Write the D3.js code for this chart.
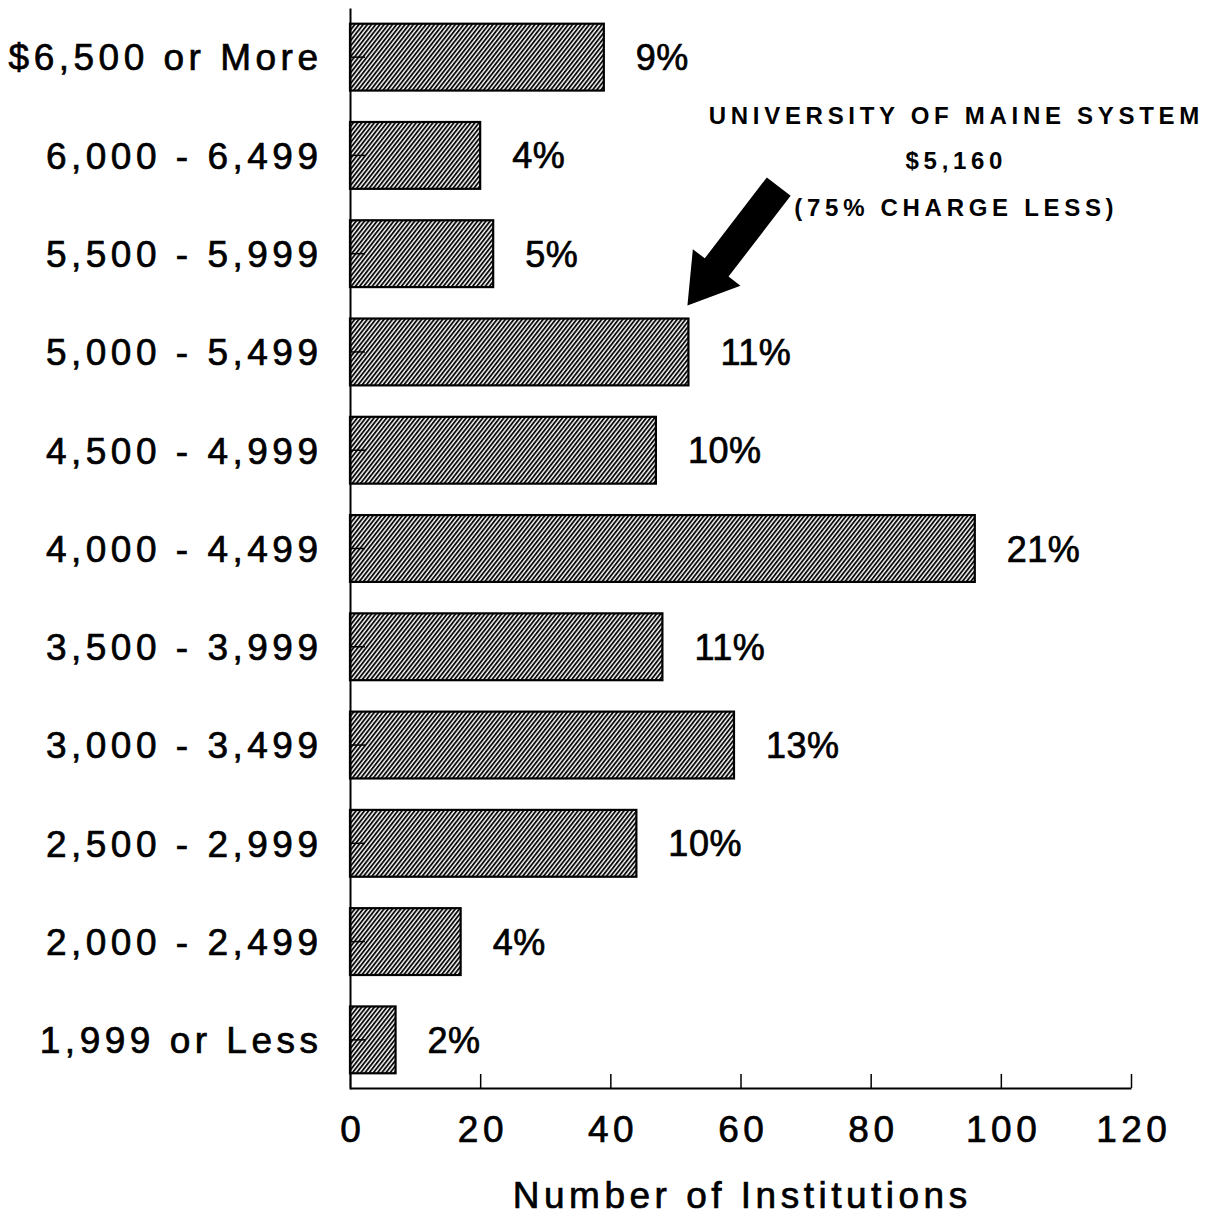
<!DOCTYPE html>
<html>
<head>
<meta charset="utf-8">
<script src="https://cdn.jsdelivr.net/npm/d3@7"></script>
<style>
  html, body { margin: 0; padding: 0; background: #fff; }
  svg { display: block; }
  text { font-family: "Liberation Sans", Arial, Helvetica, sans-serif; fill: #000; }
</style>
</head>
<body>
<svg id="chart" width="1215" height="1220"></svg>
<script>
// Tuition and fee ranges (top to bottom)
const categories = [
  "$6,500 or More", "6,000 - 6,499", "5,500 - 5,999", "5,000 - 5,499",
  "4,500 - 4,999", "4,000 - 4,499", "3,500 - 3,999", "3,000 - 3,499",
  "2,500 - 2,999", "2,000 - 2,499", "1,999 or Less"
];
// Number of institutions in each range
const institutions = [39, 20, 22, 52, 47, 96, 48, 59, 44, 17, 7];
// Share of institutions, as printed beside each bar
const shareLabels = ["9%", "4%", "5%", "11%", "10%", "21%", "11%", "13%", "10%", "4%", "2%"];
// X axis ticks
const xTicks = [0, 20, 40, 60, 80, 100, 120];
// Callout
const calloutLines = ["UNIVERSITY OF MAINE SYSTEM", "$5,160", "(75% CHARGE LESS)"];
const calloutCategory = "5,000 - 5,499";
const xTitle = "Number of Institutions";

const svg = d3.select("#chart");

// Diagonal hatch used for the bars
const defs = svg.append("defs");
const pat = defs.append("pattern")
  .attr("id", "hatch")
  .attr("patternUnits", "userSpaceOnUse")
  .attr("width", 3.3).attr("height", 10)
  .attr("patternTransform", "rotate(38)");
pat.append("rect").attr("width", 3.3).attr("height", 10).attr("fill", "#fff");
pat.append("line")
  .attr("x1", 1).attr("y1", 0).attr("x2", 1).attr("y2", 10)
  .attr("stroke", "#000").attr("stroke-width", 1.8);

const x = d3.scaleLinear().domain([0, 120]).range([350, 1131]);
const y = d3.scaleBand().domain(categories).range([8, 1089])
  .paddingInner(0.32).paddingOuter(0.16);

const FS = 37;   // axis text size
const LS = 4.5;  // letter spacing of axis text
const heavy = sel => sel.attr("stroke", "#000").attr("stroke-width", 0.7);

// Bars
svg.append("g").selectAll("rect")
  .data(categories)
  .join("rect")
  .attr("x", x(0))
  .attr("y", d => y(d))
  .attr("width", (d, i) => x(institutions[i]) - x(0))
  .attr("height", y.bandwidth())
  .attr("fill", "url(#hatch)")
  .attr("stroke", "#000")
  .attr("stroke-width", 2.2);

// Y axis with short inward ticks
const yAxis = svg.append("g")
  .attr("transform", `translate(${x(0)},0)`)
  .call(d3.axisLeft(y).tickSizeInner(-15).tickSizeOuter(0).tickPadding(32 - LS));
yAxis.select(".domain").attr("stroke", "#000").attr("stroke-width", 2);
yAxis.selectAll(".tick line").attr("stroke", "#000").attr("stroke-width", 1.5);
yAxis.selectAll(".tick text")
  .attr("font-size", FS)
  .attr("letter-spacing", LS)
  .attr("dy", "0.36em")
  .style("font-family", '"Liberation Sans", Arial, sans-serif')
  .call(heavy);

// X axis with upward ticks
const xAxis = svg.append("g")
  .attr("transform", `translate(0,1088)`)
  .call(d3.axisBottom(x).tickValues(xTicks).tickSizeInner(-14).tickSizeOuter(0).tickPadding(54));
xAxis.select(".domain").attr("stroke", "#000").attr("stroke-width", 2);
xAxis.selectAll(".tick line").attr("stroke", "#000").attr("stroke-width", 1.5);
xAxis.selectAll(".tick text")
  .attr("font-size", FS)
  .attr("letter-spacing", LS)
  .attr("dy", "0")
  .attr("dx", LS / 2)
  .style("font-family", '"Liberation Sans", Arial, sans-serif')
  .call(heavy);

// Axis title
svg.append("text")
  .attr("x", 740 + LS / 2).attr("y", 1208)
  .attr("text-anchor", "middle")
  .attr("font-size", FS)
  .attr("letter-spacing", LS)
  .call(heavy)
  .text(xTitle);

// Percentage labels beside bars
svg.append("g").selectAll("text")
  .data(categories)
  .join("text")
  .attr("x", (d, i) => x(institutions[i]) + 32)
  .attr("y", d => y(d) + y.bandwidth() / 2 + 13)
  .attr("font-size", 36)
  .attr("letter-spacing", 0.5)
  .call(heavy)
  .text((d, i) => shareLabels[i]);

// Callout text
const cLS = 4.7;
svg.append("g").selectAll("text")
  .data(calloutLines)
  .join("text")
  .attr("x", 954 + cLS / 2)
  .attr("y", (d, i) => [124, 169, 216][i])
  .attr("text-anchor", "middle")
  .attr("font-size", 24)
  .attr("font-weight", "bold")
  .attr("letter-spacing", cLS)
  .text(d => d);

// Arrow pointing at the callout bar's top-right corner
const ci = categories.indexOf(calloutCategory);
const tipX = x(institutions[ci]) - 1;
const tipY = y(calloutCategory) - 13;
const L = 150, H = 48, W = 30, S = 15;
svg.append("path")
  .attr("d", `M0,0 L${H},${-W} L${H},${-S} L${L},${-S} L${L},${S} L${H},${S} L${H},${W} Z`)
  .attr("transform", `translate(${tipX},${tipY}) rotate(-52.5)`)
  .attr("fill", "#000");
</script>
</body>
</html>
